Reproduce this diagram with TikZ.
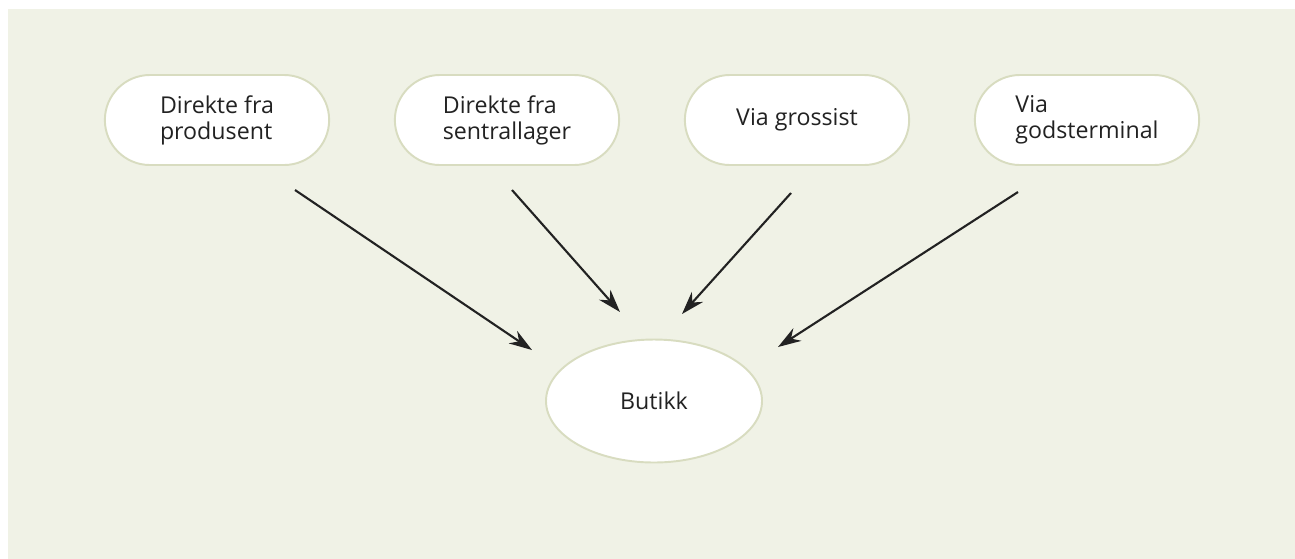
\documentclass[tikz,border=0pt]{standalone}
\usepackage{fontspec}
\setmainfont{Open Sans}
\usepackage{xcolor}
\usetikzlibrary{arrows.meta,positioning,calc,shapes.misc,shapes.geometric}
\definecolor{bgpaper}{RGB}{240,242,230}
\definecolor{rimgreen}{RGB}{216,220,192}
\definecolor{inkgray}{RGB}{34,34,34}
\begin{document}
\begin{tikzpicture}[
  node distance=5.8cm,
  on grid,
  >={Stealth[length=4.6mm,width=3mm,inset=1.5mm]},
  every node/.style={font=\fontsize{13.2}{14.8}\selectfont,text=inkgray},
  channel/.style={rounded rectangle,draw=rimgreen,line width=1.1pt,fill=white,
    minimum width=4.72cm,minimum height=1.8cm,align=left},
  shop/.style={ellipse,draw=rimgreen,line width=1.1pt,fill=white,
    minimum width=4.32cm,minimum height=2.46cm},
  flow/.style={->,draw=inkgray,line width=1.2pt}]
  % paper and frame
  \useasboundingbox (0,0) rectangle (25.9,-11.16);
  \fill [bgpaper] (0.16,-0.18) rectangle (26.1,-11.4);
  % the four channels
  \node [channel] (prod) at (4.34,-2.4) {Direkte fra\\produsent};
  \node [channel] (lager) [right = of prod] {Direkte fra\\sentrallager};
  \node [channel] (gross) [right = of lager] {Via grossist};
  \node [channel] (gods) [right = of gross] {Via\\godsterminal};
  \node [shop] (butikk) at ($(lager)!0.5!(gross)+(0.04,-5.62)$) {Butikk};
  % free arrow ends
  \coordinate (prod out) at (5.9,-3.8);
  \coordinate (lager out) at (10.24,-3.8);
  \coordinate (gross out) at (15.82,-3.86);
  \coordinate (gods out) at (20.36,-3.84);
  \coordinate (butikk nw) at (10.64,-7.0);
  \coordinate (butikk nnw) at (12.4,-6.24);
  \coordinate (butikk nne) at (13.64,-6.28);
  \coordinate (butikk ne) at (15.56,-6.94);
  \draw [flow] (prod out) -- (butikk nw);
  \draw [flow] (lager out) -- (butikk nnw);
  \draw [flow] (gross out) -- (butikk nne);
  \draw [flow] (gods out) -- (butikk ne);
\end{tikzpicture}
\end{document}
